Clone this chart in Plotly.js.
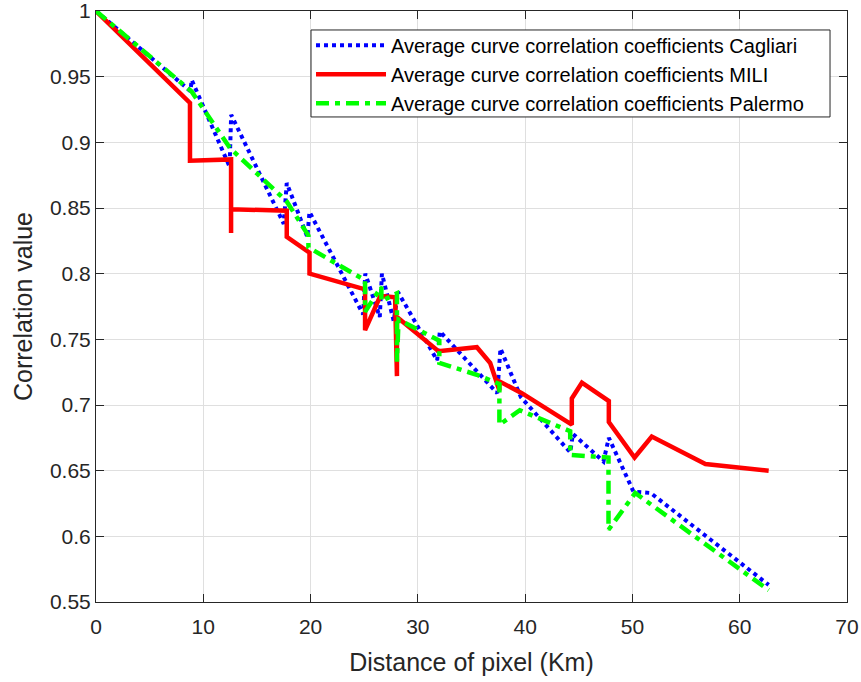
<!DOCTYPE html>
<html>
<head>
<meta charset="utf-8">
<script src="https://cdn.plot.ly/plotly-3.0.1.min.js"></script>
<style>
html,body{margin:0;padding:0;background:#fff;}
#chart{width:861px;height:682px;}
</style>
</head>
<body>
<div id="chart"></div>
<script>
// ---- data ----
var cagliariX = [0, 8.8, 8.92, 12.45, 12.6, 17.5, 17.78, 19.7, 19.9, 24.9, 25.1, 26.45, 26.65, 27.75, 28.15, 31.8, 32.05, 37.4, 37.7, 39.6, 44.2, 44.45, 47.3, 47.8, 50.1, 51.7, 62.7];
var cagliariY = [1, 0.939, 0.9475, 0.8815, 0.921, 0.838, 0.869, 0.828, 0.847, 0.769, 0.800, 0.767, 0.800, 0.764, 0.786, 0.734, 0.756, 0.709, 0.743, 0.706, 0.664, 0.678, 0.657, 0.675, 0.634, 0.633, 0.563];

var miliX = [0, 8.76, 8.76, 12.59, 12.59, 12.59, 17.78, 17.78, 19.9, 19.9, 25.08, 25.08, 26.5, 27.88, 28.05, 28.05, 31.92, 35.5, 36.74, 37.6, 37.6, 39.69, 44.35, 44.35, 45.29, 47.8, 47.8, 50.2, 51.8, 56.8, 62.7];
var miliY = [1, 0.930, 0.886, 0.887, 0.831, 0.849, 0.848, 0.828, 0.816, 0.800, 0.788, 0.757, 0.783, 0.782, 0.722, 0.767, 0.741, 0.744, 0.732, 0.711, 0.718, 0.709, 0.685, 0.705, 0.717, 0.703, 0.687, 0.660, 0.676, 0.655, 0.650];

var palermoX = [0, 8.92, 12.5, 17.78, 19.8, 19.8, 25.08, 25.08, 26.6, 26.6, 28.05, 28.05, 28.2, 32.0, 32.0, 35.5, 37.6, 37.6, 39.5, 44.2, 44.2, 47.3, 47.77, 47.77, 50.26, 62.7];
var palermoY = [1, 0.9386, 0.8955, 0.855, 0.829, 0.820, 0.795, 0.771, 0.790, 0.779, 0.785, 0.733, 0.765, 0.749, 0.732, 0.723, 0.716, 0.685, 0.696, 0.680, 0.662, 0.660, 0.660, 0.605, 0.633, 0.559];

var seriesNames = [
  "Average curve correlation coefficients Cagliari",
  "Average curve correlation coefficients MILI",
  "Average curve correlation coefficients Palermo"
];
var xTickVals = [0, 10, 20, 30, 40, 50, 60, 70];
var xTickText = ["0", "10", "20", "30", "40", "50", "60", "70"];
var yTickVals = [0.55, 0.6, 0.65, 0.7, 0.75, 0.8, 0.85, 0.9, 0.95, 1];
var yTickText = ["0.55", "0.6", "0.65", "0.7", "0.75", "0.8", "0.85", "0.9", "0.95", "1"];

var axisColor = "#262626";
var fontFamily = "'Liberation Sans', Arial, Helvetica, sans-serif";

var traces = [
  {x: cagliariX, y: cagliariY, name: seriesNames[0], type: "scatter", mode: "lines",
   line: {color: "#0000ff", width: 4, dash: "4px,4px"}},
  {x: miliX, y: miliY, name: seriesNames[1], type: "scatter", mode: "lines",
   line: {color: "#ff0000", width: 4.5}},
  {x: palermoX, y: palermoY, name: seriesNames[2], type: "scatter", mode: "lines",
   line: {color: "#00ff00", width: 4.5, dash: "13px,6px,5px,6px"}}
];

var layout = {
  width: 861, height: 682,
  margin: {l: 96, r: 14, t: 11, b: 80, pad: 0},
  paper_bgcolor: "#ffffff", plot_bgcolor: "#ffffff",
  font: {family: fontFamily, color: axisColor, size: 20},
  showlegend: true,
  legend: {
    x: 0.2863, y: 0.975, xanchor: "left", yanchor: "top",
    bgcolor: "rgba(255,255,255,0)", borderwidth: 0,
    font: {family: fontFamily, size: 20, color: "#000000"},
    itemwidth: 70, tracegroupgap: 0
  },
  // legend frame (decoration)
  shapes: [{
    type: "rect", xref: "paper", yref: "paper", layer: "above",
    x0: 0.2863, x1: 0.9774, y0: 0.8207, y1: 0.9679,
    fillcolor: "#ffffff", line: {color: axisColor, width: 1}
  }],
  xaxis: {
    range: [0, 70], tickmode: "array", tickvals: xTickVals, ticktext: xTickText,
    showgrid: true, gridcolor: "#dfdfdf", gridwidth: 1,
    zeroline: false, showline: true, linecolor: axisColor, linewidth: 1, mirror: "ticks",
    ticks: "inside", ticklen: 8, tickcolor: axisColor, tickwidth: 1,
    ticklabelstandoff: 6, ticklabeloverflow: "allow",
    tickfont: {family: fontFamily, size: 21, color: axisColor},
    title: {text: "Distance of pixel (Km)", font: {family: fontFamily, size: 25, color: axisColor}, standoff: 16},
    automargin: false
  },
  yaxis: {
    range: [0.55, 1], tickmode: "array", tickvals: yTickVals, ticktext: yTickText,
    showgrid: true, gridcolor: "#dfdfdf", gridwidth: 1,
    zeroline: false, showline: true, linecolor: axisColor, linewidth: 1, mirror: "ticks",
    ticks: "inside", ticklen: 8, tickcolor: axisColor, tickwidth: 1,
    ticklabeloverflow: "allow",
    tickfont: {family: fontFamily, size: 21, color: axisColor},
    title: {text: "Correlation value", font: {family: fontFamily, size: 25, color: axisColor}, standoff: 10},
    automargin: false
  }
};

Plotly.newPlot("chart", traces, layout, {displayModeBar: false, staticPlot: true});
</script>
</body>
</html>
